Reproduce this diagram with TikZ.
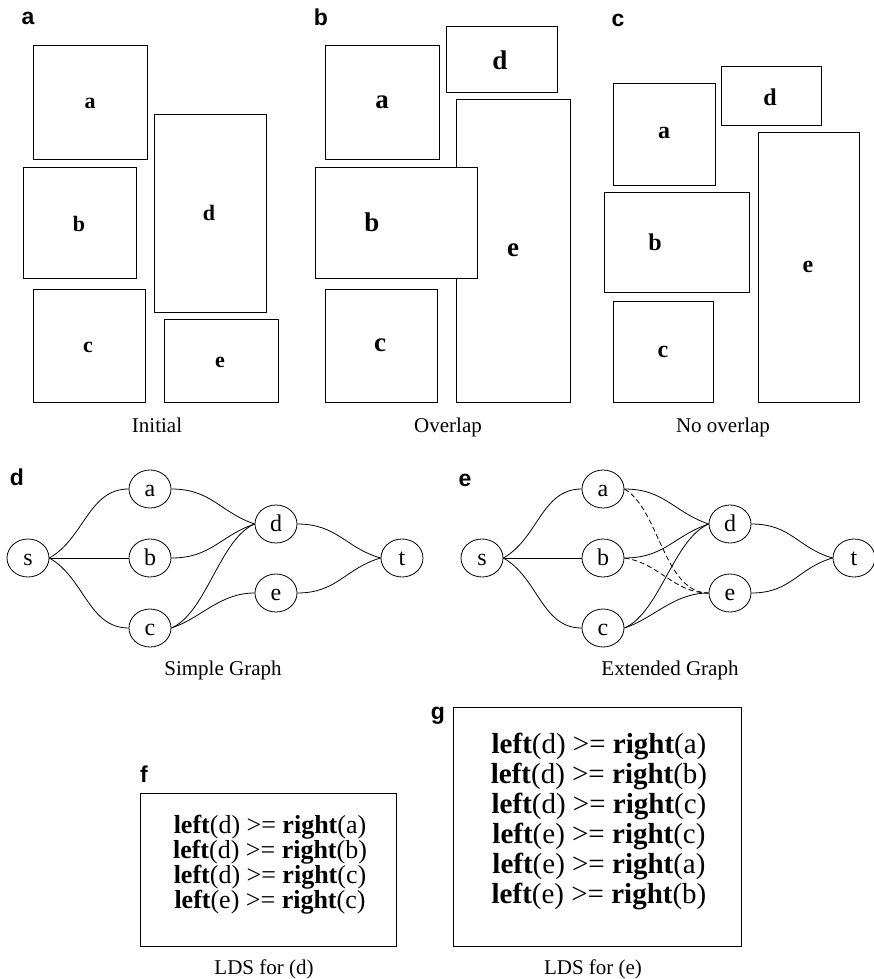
\documentclass[tikz,border=0pt]{standalone}
\usepackage{fontspec}
\setmainfont{Liberation Serif}
\newfontfamily\labfont{Liberation Sans}
\usetikzlibrary{shapes.geometric}
\begin{document}
\begin{tikzpicture}[x=1pt,y=-1pt,
  panel/.style={font=\labfont\bfseries\fontsize{23}{23}\selectfont, inner sep=0pt},
  rectbox/.style={draw, line width=0.9pt, fill=white},
  blab/.style={font=\bfseries\fontsize{#1}{#1}\selectfont, inner sep=0pt},
  captxt/.style={font=\fontsize{21}{21}\selectfont, inner sep=0pt, anchor=base},
  gnode/.style={draw, ellipse, line width=0.8pt, minimum width=42pt, minimum height=38pt, inner sep=0pt, font=\fontsize{24}{24}\selectfont, text height=15pt, text depth=0pt},
  conn/.style={line width=0.8pt},
  dashconn/.style={line width=0.8pt, dash pattern=on 5pt off 3pt},
  fblock/.style={font=\fontsize{26}{22.3}\selectfont, inner sep=0pt, align=center},
  gline/.style={font=\fontsize{29}{29}\selectfont, inner sep=0pt, anchor=base},
]
\useasboundingbox[fill=white] (0,0) rectangle (873,979);

% panel labels
\node[panel] (La) at (28,18) {a};
\node[panel] (Lb) at (321,17) {b};
\node[panel] (Lc) at (618,20) {c};
\node[panel] (Ld) at (17,477) {d};
\node[panel] (Le) at (465,480) {e};
\node[panel] (Lf) at (144,774) {f};
\node[panel] (Lg) at (438,716) {g};

% panel a
\draw[rectbox] (33,45) rectangle (147,159);
\draw[rectbox] (23,167) rectangle (136,278);
\draw[rectbox] (33,289) rectangle (145,402);
\draw[rectbox] (154,114) rectangle (266,312);
\draw[rectbox] (164,319) rectangle (278,402);
\node[blab=22] (pa1) at (90,103) {a};
\node[blab=22] (pa2) at (79,224) {b};
\node[blab=22] (pa3) at (88,347) {c};
\node[blab=22] (pa4) at (209,213) {d};
\node[blab=22] (pa5) at (220,362) {e};
\node[captxt] (capa) at (157,432) {Initial};

% panel b
\draw[rectbox] (325,45) rectangle (439,159);
\draw[rectbox] (446,26) rectangle (557,92);
\draw[rectbox] (456,99) rectangle (570,402);
\draw[rectbox] (315,167) rectangle (477,278);
\draw[rectbox] (325,289) rectangle (437,402);
\node[blab=27] (pb1) at (382,102) {a};
\node[blab=27] (pb2) at (372,222) {b};
\node[blab=27] (pb3) at (380,345) {c};
\node[blab=27] (pb4) at (500,60) {d};
\node[blab=27] (pb5) at (513,250) {e};
\node[captxt] (capb) at (448,432) {Overlap};

% panel c
\draw[rectbox] (613,83) rectangle (715,185);
\draw[rectbox] (721,66) rectangle (821,125);
\draw[rectbox] (604,192) rectangle (749,292);
\draw[rectbox] (613,301) rectangle (713,402);
\draw[rectbox] (758,132) rectangle (859,402);
\node[blab=24] (pc1) at (664,133) {a};
\node[blab=24] (pc2) at (655,242) {b};
\node[blab=24] (pc3) at (663,352) {c};
\node[blab=24] (pc4) at (770,97) {d};
\node[blab=24] (pc5) at (808,267) {e};
\node[captxt] (capc) at (723,432) {No overlap};

% graph d
\node[gnode] (s1) at (28,558) {s};
\node[gnode] (a1) at (150,489) {a};
\node[gnode] (b1) at (150,558) {b};
\node[gnode] (c1) at (150,628) {c};
\node[gnode] (d1) at (276,524) {d};
\node[gnode] (e1) at (276,593) {e};
\node[gnode] (t1) at (402,558) {t};
\draw[conn] (s1.east) .. controls +(35,-20) and +(-40,0) .. (a1.west);
\draw[conn] (s1.east) -- (b1.west);
\draw[conn] (s1.east) .. controls +(35,20) and +(-40,0) .. (c1.west);
\draw[conn] (a1.east) .. controls +(40,0) and +(-35,-12) .. (d1.west);
\draw[conn] (b1.east) .. controls +(40,0) and +(-35,12) .. (d1.west);
\draw[conn] (c1.east) .. controls +(35,-15) and +(-35,15) .. (d1.west);
\draw[conn] (c1.east) .. controls +(30,-10) and +(-35,0) .. (e1.west);
\draw[conn] (d1.east) .. controls +(40,0) and +(-35,-10) .. (t1.west);
\draw[conn] (e1.east) .. controls +(40,0) and +(-35,10) .. (t1.west);
\node[captxt] (capd) at (223,675) {Simple Graph};

% graph e
\node[gnode] (s2) at (482,558) {s};
\node[gnode] (a2) at (603,489) {a};
\node[gnode] (b2) at (603,558) {b};
\node[gnode] (c2) at (603,628) {c};
\node[gnode] (d2) at (730,524) {d};
\node[gnode] (e2) at (730,593) {e};
\node[gnode] (t2) at (854,558) {t};
\draw[conn] (s2.east) .. controls +(35,-20) and +(-40,0) .. (a2.west);
\draw[conn] (s2.east) -- (b2.west);
\draw[conn] (s2.east) .. controls +(35,20) and +(-40,0) .. (c2.west);
\draw[conn] (a2.east) .. controls +(40,0) and +(-35,-12) .. (d2.west);
\draw[conn] (b2.east) .. controls +(40,0) and +(-35,12) .. (d2.west);
\draw[conn] (c2.east) .. controls +(35,-15) and +(-35,15) .. (d2.west);
\draw[conn] (c2.east) .. controls +(30,-10) and +(-35,0) .. (e2.west);
\draw[conn] (d2.east) .. controls +(40,0) and +(-35,-10) .. (t2.west);
\draw[conn] (e2.east) .. controls +(40,0) and +(-35,10) .. (t2.west);
\draw[dashconn] (a2.east) .. controls +(35,20) and +(-45,0) .. (e2.west);
\draw[dashconn] (b2.east) .. controls +(35,5) and +(-35,0) .. (e2.west);
\node[captxt] (cape) at (670,675) {Extended Graph};

% box f
\draw[rectbox] (140,793) rectangle (396,946);
\node[fblock] (fb) at (270,865) {\textbf{left}(d) >= \textbf{right}(a)\\
\textbf{left}(d) >= \textbf{right}(b)\\
\textbf{left}(d) >= \textbf{right}(c)\\
\textbf{left}(e) >= \textbf{right}(c)};
\node[captxt] (capf) at (264,974) {LDS for (d)};

% box g
\draw[rectbox] (453,707) rectangle (741,946);
\node[gline] (g1) at (599,753) {\textbf{left}(d) >= \textbf{right}(a)};
\node[gline] (g2) at (599,783) {\textbf{left}(d) >= \textbf{right}(b)};
\node[gline] (g3) at (599,813) {\textbf{left}(d) >= \textbf{right}(c)};
\node[gline] (g4) at (599,843) {\textbf{left}(e) >= \textbf{right}(c)};
\node[gline] (g5) at (599,873) {\textbf{left}(e) >= \textbf{right}(a)};
\node[gline] (g6) at (599,903) {\textbf{left}(e) >= \textbf{right}(b)};
\node[captxt] (capg) at (593,974) {LDS for (e)};
\end{tikzpicture}
\end{document}
